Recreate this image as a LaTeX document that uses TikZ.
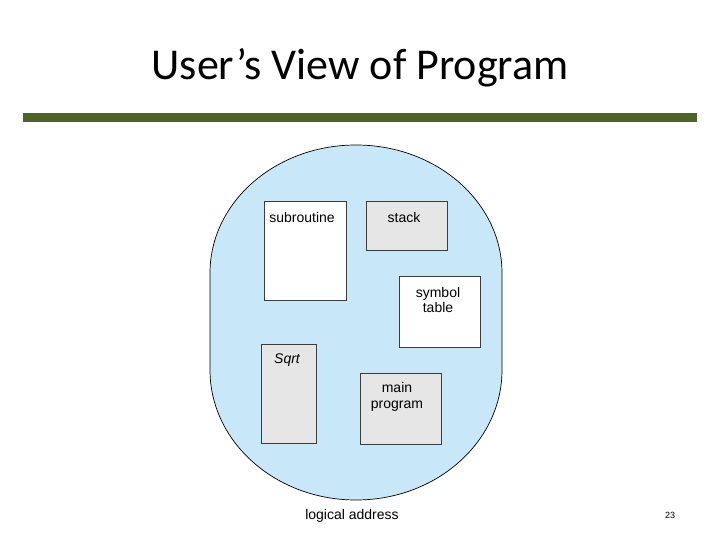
\documentclass[tikz,border=0pt]{standalone}
\usepackage{fontspec}
\setmainfont{Liberation Sans}
\newfontfamily\titlefont{Carlito}
\definecolor{blob}{RGB}{200,232,250}
\definecolor{boxgray}{RGB}{230,230,230}
\definecolor{olive}{RGB}{79,98,40}
\definecolor{edge}{RGB}{60,60,60}
\begin{document}
\begin{tikzpicture}[x=1pt,y=-1pt,
  seg/.style={draw=edge,line width=0.8pt},
  lbl/.style={font=\fontsize{14}{15.5}\selectfont,align=center,inner sep=0pt}]
\useasboundingbox (0,0) rectangle (720,540);
\fill[white] (0,0) rectangle (720,540);
% title
\node[font=\titlefont\fontsize{44}{48}\selectfont,inner sep=0pt] (title) at (360,68) {User’s View of Program};
\fill[olive] (23,113) rectangle (697,122);
% blob
\draw[fill=blob,draw=black,line width=0.7pt] (210,273) arc[start angle=180,end angle=360,x radius=146,y radius=128]
  -- (502,370) arc[start angle=0,end angle=180,x radius=146,y radius=130] -- cycle;
% boxes
\draw[seg,fill=white] (264,201) rectangle (346,300);
\node[lbl] (sub) at (302,217) {subroutine};
\draw[seg,fill=boxgray] (366,201) rectangle (447,250);
\node[lbl] (stack) at (404,217) {stack};
\draw[seg,fill=white] (399,276) rectangle (480,347);
\node[lbl] (sym) at (438,300) {symbol\\table};
\draw[seg,fill=boxgray] (261,344) rectangle (316,443);
\node[lbl,font=\fontsize{14}{15.5}\selectfont\itshape] (sqrt) at (287,360) {Sqrt};
\draw[seg,fill=boxgray] (360,373) rectangle (441,444);
\node[lbl] (main) at (397,397) {main\\program};
\node[lbl] (la) at (352,516) {logical address};
\node[font=\fontsize{9}{10}\selectfont,inner sep=0pt] (pg) at (670,515) {23};
\end{tikzpicture}
\end{document}
